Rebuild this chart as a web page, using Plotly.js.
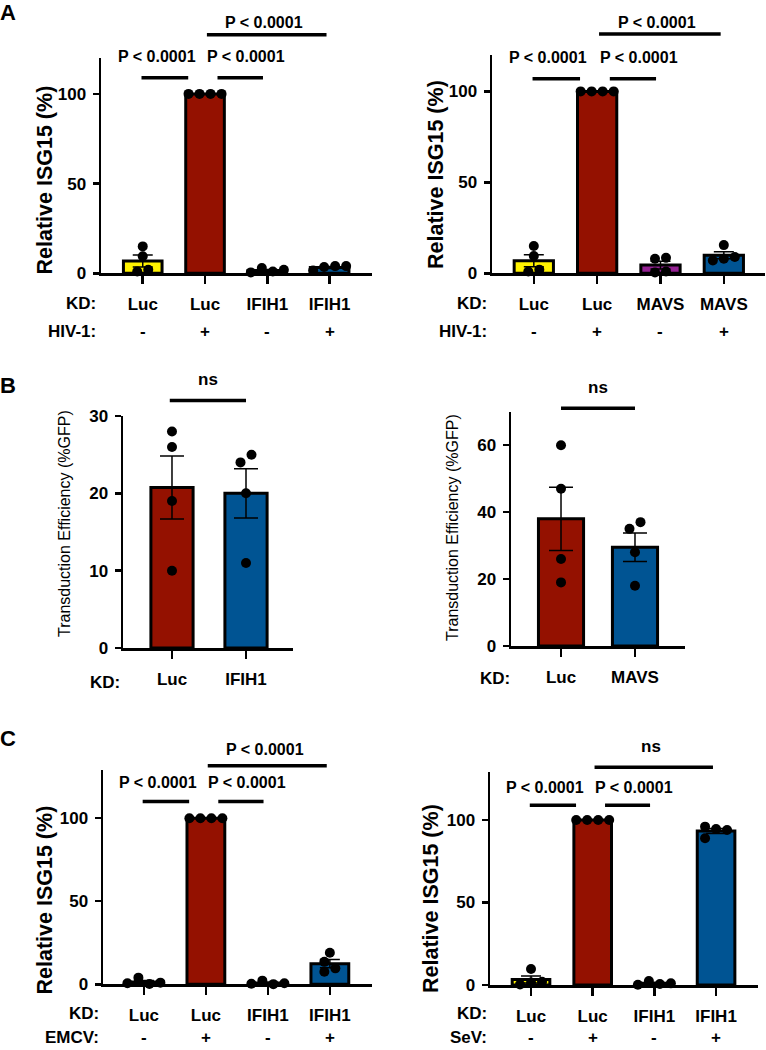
<!DOCTYPE html>
<html>
<head>
<meta charset="utf-8">
<script src="https://cdn.plot.ly/plotly-3.0.1.min.js"></script>
<style>body{margin:0;background:#fff}</style>
</head>
<body>
<div id="plotArea" style="width:766px;height:1050px"></div>
<script>
// ---- data (4 replicates per bar) ----
var kdA1 = ["Luc", "Luc", "IFIH1", "IFIH1"];
var kdA2 = ["Luc", "Luc", "MAVS", "MAVS"];
var hivA = ["-", "+", "-", "+"];
var isgA1 = [[1, 15, 9.5, 2], [100, 100, 100, 100], [0.5, 3, 1, 2], [1.5, 3.5, 4, 4]];
var isgA2 = [[1, 15, 9.5, 2], [100, 100, 100, 100], [0.5, 1, 8, 8.5], [7, 8, 9, 15.5]];

var kdB1 = ["Luc", "IFIH1"];
var kdB2 = ["Luc", "MAVS"];
var gfpB1 = [[10, 19, 26, 28], [11, 20, 24, 25]];
var gfpB2 = [[19, 26, 47, 60], [18, 28, 35, 37]];

var kdC = ["Luc", "Luc", "IFIH1", "IFIH1"];
var emcvC = ["-", "+", "-", "+"];
var sevC = ["-", "+", "-", "+"];
var isgC1 = [[0.6, 4, 0.2, 1], [100, 100, 100, 100], [0.3, 2.2, 0.1, 0.6], [7.6, 9.6, 13.5, 19]];
var isgC2 = [[0.3, 1.5, 2, 9.7], [100, 100, 100, 100], [0.2, 2.4, 0.6, 1], [89, 96, 94.5, 94]];

// comparisons: [group a, group b, label]
var sigA1 = [[0, 1, "P < 0.0001"], [1, 2, "P < 0.0001"], [1, 3, "P < 0.0001"]];
var sigA2 = [[0, 1, "P < 0.0001"], [1, 2, "P < 0.0001"], [1, 3, "P < 0.0001"]];
var sigB1 = [[0, 1, "ns"]];
var sigB2 = [[0, 1, "ns"]];
var sigC1 = [[0, 1, "P < 0.0001"], [1, 2, "P < 0.0001"], [1, 3, "P < 0.0001"]];
var sigC2 = [[0, 1, "P < 0.0001"], [1, 2, "P < 0.0001"], [1, 3, "ns"]];

// ---- styling ----
var W = 766, H = 1050;
var FONT = "Liberation Sans, Arial, Helvetica, sans-serif";
var lemon = "#FFF200", cayenne = "#941100", plum = "#942193", ocean = "#005493";
var pTrim = [[-0.02, 0.27], [0.2, 0.07], [0.03, 0.05]];
var pShift = [-0.13, 0.1, -0.04];

var isgTitle = {text: "Relative ISG15 (%)", size: 21.5, weight: "bold"};
var gfpTitle = {text: "Transduction Efficiency (%GFP)", size: 16, weight: "normal"};

// box = [left, right, top, bottom] of the plot area in px
var panels = [
  {letter: "A", letterY: 12, kd: kdA1, row2: hivA, row2Name: "HIV-1:", vals: isgA1,
   colors: [lemon, cayenne, plum, ocean], sig: sigA1,
   box: [101, 372, 58, 273.3], xr: [-0.67, 3.68], yr: [0, 120], dtick: 50, barW: 0.62, cap: 10,
   title: isgTitle, titleXY: [44, 180.5], headX: 97, rowY: [303, 332],
   sigY: [109, 109, 133], sigGap: [21, 21, 12], trim: pTrim, shift: pShift},
  {kd: kdA2, row2: hivA, row2Name: "HIV-1:", vals: isgA2,
   colors: [lemon, cayenne, plum, ocean], sig: sigA2,
   box: [492, 765, 55, 273.3], xr: [-0.66, 3.65], yr: [0, 120], dtick: 50, barW: 0.62, cap: 10,
   title: isgTitle, titleXY: [435.5, 174.5], headX: 488, rowY: [303, 332],
   sigY: [107, 107, 131.5], sigGap: [21, 21, 12], trim: pTrim, shift: pShift},
  {letter: "B", letterY: 385, kd: kdB1, vals: gfpB1, colors: [cayenne, ocean], sig: sigB1,
   box: [123, 293, 416, 648], xr: [-0.662, 1.635], yr: [0, 30], dtick: 10, barW: 0.57, cap: 12,
   title: gfpTitle, titleXY: [64, 524], headX: 121, rowY: [682],
   sigY: [32], sigGap: [21], trim: [[-0.03, 0]], shift: [0]},
  {kd: kdB2, vals: gfpB2, colors: [cayenne, ocean], sig: sigB2,
   box: [511, 685, 411.7, 646], xr: [-0.676, 1.676], yr: [0, 70], dtick: 20, barW: 0.61, cap: 12,
   title: gfpTitle, titleXY: [452, 527], headX: 511, rowY: [679],
   sigY: [71], sigGap: [21], trim: [[0, 0]], shift: [0]},
  {letter: "C", letterY: 738.5, kd: kdC, row2: emcvC, row2Name: "EMCV:", vals: isgC1,
   colors: [lemon, cayenne, plum, ocean], sig: sigC1,
   box: [103, 372, 770, 984.3], xr: [-0.66, 3.68], yr: [0, 129], dtick: 50, barW: 0.61, cap: 10,
   title: isgTitle, titleXY: [44.5, 900], headX: 100, rowY: [1013, 1037],
   sigY: [110, 110, 131.5], sigGap: [19, 19, 16], trim: pTrim, shift: pShift},
  {kd: kdC, row2: sevC, row2Name: "SeV:", vals: isgC2,
   colors: [lemon, cayenne, plum, ocean], sig: sigC2,
   box: [490, 758, 771.7, 985], xr: [-0.665, 3.68], yr: [0, 129.3], dtick: 50, barW: 0.61, cap: 10,
   title: isgTitle, titleXY: [430.5, 898.5], headX: 488, rowY: [1013, 1037],
   sigY: [109, 109, 132], sigGap: [18, 18, 21], trim: pTrim, shift: pShift}
];

function mean(a) {
  return a.reduce(function(s, v) { return s + v; }, 0) / a.length;
}
function sem(a) {
  var m = mean(a);
  var ss = a.reduce(function(s, v) { return s + (v - m) * (v - m); }, 0);
  return Math.sqrt(ss / (a.length - 1)) / Math.sqrt(a.length);
}

// lay dots side by side when they would overlap (px offsets), then centre each clump
function swarm(g, pxY) {
  var d = 9, step = 11, placed = [];
  g.forEach(function(v) {
    var dx = 0;
    while (placed.some(function(q) {
      return Math.abs(q.v - v) * pxY < d && Math.abs(q.dx - dx) < step;
    })) dx += step;
    placed.push({v: v, dx: dx});
  });
  var root = placed.map(function(_, i) { return i; });
  function find(i) { while (root[i] !== i) i = root[i]; return i; }
  for (var i = 0; i < placed.length; i++)
    for (var j = i + 1; j < placed.length; j++)
      if (Math.abs(placed[i].v - placed[j].v) * pxY < d) root[find(j)] = find(i);
  var lo = {}, hi = {};
  placed.forEach(function(q, i) {
    var r = find(i);
    lo[r] = r in lo ? Math.min(lo[r], q.dx) : q.dx;
    hi[r] = r in hi ? Math.max(hi[r], q.dx) : q.dx;
  });
  return placed.map(function(q, i) { var r = find(i); return q.dx - (lo[r] + hi[r]) / 2; });
}

var traces = [], annotations = [], shapes = [];
var layout = {
  width: W, height: H, margin: {l: 0, r: 0, t: 0, b: 0},
  paper_bgcolor: "white", plot_bgcolor: "white", showlegend: false,
  font: {family: FONT, color: "black"}
};

function label(text, x, y, size, weight, opts) {
  var a = {text: text, x: x / W, y: 1 - y / H, xref: "paper", yref: "paper",
    showarrow: false, xanchor: "center", yanchor: "middle", borderpad: 0,
    font: {family: FONT, size: size, weight: weight, color: "black"}};
  for (var k in opts) a[k] = opts[k];
  annotations.push(a);
}

panels.forEach(function(p, k) {
  var n = k === 0 ? "" : String(k + 1);
  var b = p.box;
  var pxX = (b[1] - b[0]) / (p.xr[1] - p.xr[0]);
  var pxY = (b[3] - b[2]) / (p.yr[1] - p.yr[0]);
  function px(v) { return b[0] + (v - p.xr[0]) * pxX; }
  function py(v) { return b[3] - (v - p.yr[0]) * pxY; }
  var idx = p.vals.map(function(_, i) { return i; });

  traces.push({
    type: "bar", x: idx, y: p.vals.map(mean), width: p.barW,
    xaxis: "x" + n, yaxis: "y" + n, cliponaxis: false, hoverinfo: "skip",
    marker: {color: p.colors, line: {color: "black", width: 3}},
    error_y: {type: "data", array: p.vals.map(sem), visible: true,
      color: "black", thickness: 1.5, width: p.cap}
  });

  var xs = [], ys = [];
  p.vals.forEach(function(g, i) {
    var offs = swarm(g, pxY);
    g.forEach(function(v, j) { xs.push(i + offs[j] / pxX); ys.push(v); });
  });
  traces.push({
    type: "scatter", mode: "markers", x: xs, y: ys,
    xaxis: "x" + n, yaxis: "y" + n, cliponaxis: false, hoverinfo: "skip",
    marker: {color: "black", size: 10}
  });

  layout["xaxis" + n] = {
    domain: [b[0] / W, b[1] / W], range: p.xr, anchor: "y" + n,
    showline: true, linecolor: "black", linewidth: 2.5,
    ticks: "outside", ticklen: 8, tickwidth: 2.5, tickcolor: "black",
    tickmode: "array", tickvals: idx, ticktext: p.kd, ticklabelstandoff: 6,
    tickfont: {family: FONT, size: 17, weight: "bold", color: "black"},
    showgrid: false, zeroline: false, fixedrange: true
  };
  layout["yaxis" + n] = {
    domain: [1 - b[3] / H, 1 - b[2] / H], range: p.yr, anchor: "x" + n,
    showline: true, linecolor: "black", linewidth: 2.5,
    ticks: "outside", ticklen: 6, tickwidth: 2.5, tickcolor: "black",
    tickmode: "linear", tick0: 0, dtick: p.dtick, ticklabelstandoff: 3,
    tickfont: {family: FONT, size: 17, weight: "bold", color: "black"},
    showgrid: false, zeroline: false, fixedrange: true
  };

  if (p.letter) label(p.letter, 8, p.letterY, 22, "bold");
  label(p.title.text, p.titleXY[0], p.titleXY[1], p.title.size, p.title.weight, {textangle: -90});
  label("KD:", p.headX, p.rowY[0], 17, "bold", {xanchor: "right"});
  if (p.row2) {
    label(p.row2Name, p.headX, p.rowY[1], 17, "bold", {xanchor: "right"});
    p.row2.forEach(function(s, i) { label(s, px(i), p.rowY[1], 17, "bold"); });
  }

  p.sig.forEach(function(c, i) {
    var xa = c[0] + p.trim[i][0], xb = c[1] - p.trim[i][1];
    var yl = py(p.sigY[i]);
    shapes.push({type: "line", xref: "paper", yref: "paper",
      x0: px(xa) / W, x1: px(xb) / W, y0: 1 - yl / H, y1: 1 - yl / H,
      line: {color: "black", width: 3.5}});
    label(c[2], px((xa + xb) / 2 + p.shift[i]), yl - p.sigGap[i], c[2] === "ns" ? 17 : 16, "bold");
  });
});

layout.annotations = annotations;
layout.shapes = shapes;
Plotly.newPlot("plotArea", traces, layout, {staticPlot: true, displayModeBar: false});
</script>
</body>
</html>
